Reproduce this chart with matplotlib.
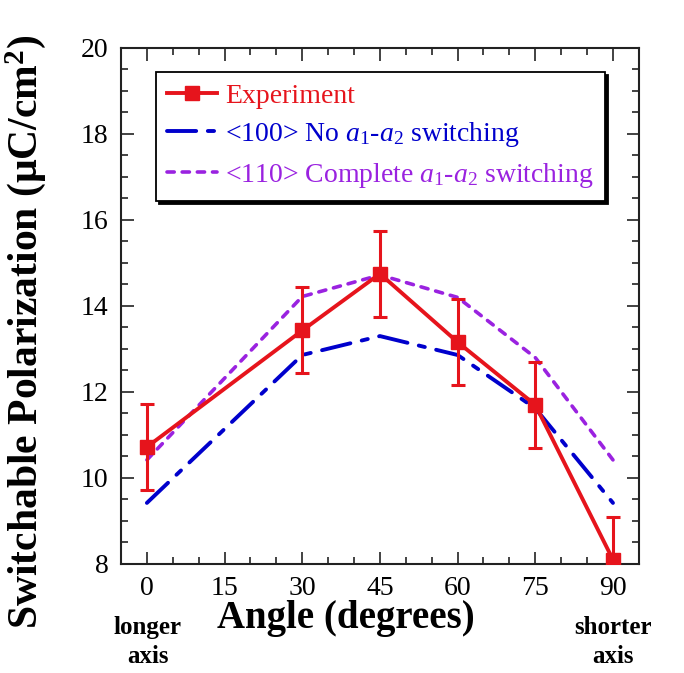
import numpy as np
import matplotlib.pyplot as plt

plt.rcParams['font.family'] = ['Liberation Serif', 'DejaVu Serif']
plt.rcParams['mathtext.fontset'] = 'custom'
plt.rcParams['mathtext.rm'] = 'Liberation Serif'
plt.rcParams['mathtext.it'] = 'Liberation Serif:italic'
plt.rcParams['mathtext.bf'] = 'Liberation Serif:bold'

angle = [0, 30, 45, 60, 75, 90]
experiment = [10.72, 13.43, 14.75, 13.16, 11.70, 8.10]
exp_err = [1.0, 1.0, 1.0, 1.0, 1.0, 1.0]
no_switch = [9.42, 12.86, 13.30, 12.86, 11.62, 9.42]
full_switch = [10.42, 14.22, 14.72, 14.20, 12.80, 10.42]

red = '#e6141c'
blue = '#0000cc'
purple = '#9a22e0'

fig = plt.figure(figsize=(6.84, 6.73), dpi=100)
ax = fig.add_axes([0.1769, 0.162, 0.7571, 0.7667])

ax.plot(angle, full_switch, color=purple, lw=2.6, dashes=(2.0, 2.2),
        dash_capstyle='round', label='<110> Complete $a_1$-$a_2$ switching', zorder=2)
ax.plot(angle, no_switch, color=blue, lw=2.8, dashes=(7.5, 3.0, 1.6, 3.0),
        dash_capstyle='round', label='<100> No $a_1$-$a_2$ switching', zorder=2)
ax.errorbar(angle, experiment, yerr=exp_err, fmt='none', ecolor=red,
            elinewidth=2.2, capsize=5, capthick=2.2, zorder=3)
ax.plot(angle, experiment, color=red, lw=2.8, marker='s', markersize=10.5,
        label='Experiment', zorder=4)

ax.set_xlim(-5, 95)
ax.set_ylim(8, 20)
ax.set_xticks(np.arange(0, 91, 15))
ax.set_xticks(np.arange(-5, 96, 5), minor=True)
ax.set_yticks(np.arange(8, 21, 2))
ax.set_yticks(np.arange(8, 20.1, 0.5), minor=True)
ax.tick_params(which='both', direction='in', top=True, right=True, labelsize=20,
               width=1.2, colors='#222222', labelcolor='black')
ax.tick_params(which='major', length=9, pad=9)
ax.tick_params(which='minor', length=5)
for s in ax.spines.values():
    s.set_linewidth(1.5)
    s.set_color('#222222')

ax.set_xlabel('Angle (degrees)', fontsize=28, fontweight='bold')
ax.xaxis.set_label_coords(0.434, -0.07)
ax.set_ylabel('Switchable Polarization (μC/cm$^\\mathbf{2}$)', fontsize=30,
              fontweight='bold')
ax.yaxis.set_label_coords(-0.141, 0.45)

fig.text(148 / 684, 1 - 642 / 673, 'longer\naxis', ha='center', va='center',
         fontsize=18, fontweight='bold', linespacing=1.3)
fig.text(613 / 684, 1 - 642 / 673, 'shorter\naxis', ha='center', va='center',
         fontsize=18, fontweight='bold', linespacing=1.3)

h, l = ax.get_legend_handles_labels()
order = [2, 1, 0]
leg = ax.legend([h[i] for i in order], [l[i] for i in order],
                loc='upper left', bbox_to_anchor=(0.0676, 0.9535), borderaxespad=0,
                fontsize=20, frameon=True, fancybox=False, framealpha=1,
                edgecolor='black', handlelength=1.8, handletextpad=0.3,
                borderpad=0.4, labelspacing=0.42, markerscale=0.95,
                labelcolor='linecolor',
                shadow={'color': 'black', 'alpha': 1})
leg.get_frame().set_linewidth(1.3)

fig.savefig('out.png', dpi=100)
